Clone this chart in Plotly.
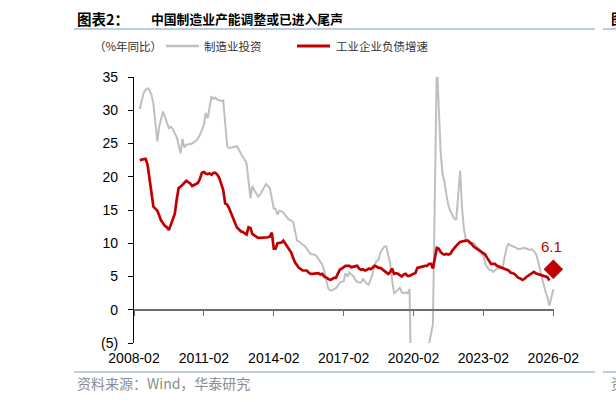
import plotly.graph_objects as go
import pandas as pd

# ---------------- data ----------------
inv_name = "制造业投资"
debt_name = "工业企业负债增速"
unit_label = "（%年同比）"

# manufacturing investment, cumulative yoy (no January prints)
inv_months = (
    ["2008-%02d" % m for m in range(5, 13)]
    + ["%d-%02d" % (y, m) for y in range(2009, 2026) for m in range(2, 13)]
    + ["2026-02"]
)
inv_vals = [
    30.2, 31.6, 32.6, 33.1, 33.3, 33.0, 32.3, 31.0,                  # 2008 May-Dec
    25.3, 27.5, 28.8, 29.8, 29.0, 28.3, 27.3, 27.5, 27.2, 26.5, 26.0,  # 2009
    23.5, 25.7, 24.4, 24.8, 24.9, 24.9, 25.0, 25.2, 25.4, 25.8, 26.3,  # 2010
    27.8, 29.6, 28.8, 30.5, 32.1, 31.7, 31.9, 31.6, 31.5, 31.4, 31.5,  # 2011
    24.6, 24.3, 24.4, 24.5, 24.6, 24.6, 24.1, 23.5, 23.0, 22.6, 22.0,  # 2012
    16.8, 18.6, 18.0, 17.5, 17.0, 17.3, 17.9, 18.5, 18.9, 18.6, 18.3,  # 2013
    15.2, 15.2, 14.3, 14.9, 14.8, 14.6, 14.2, 13.8, 13.5, 13.4, 13.2,  # 2014
    10.4, 10.3, 10.0, 9.8, 9.6, 9.2, 8.8, 8.4, 8.3, 8.3, 8.1,          # 2015
    7.3, 6.8, 5.9, 4.6, 3.3, 2.9, 2.9, 3.1, 3.2, 3.6, 4.1,             # 2016
    4.3, 5.5, 5.0, 5.6, 5.3, 5.1, 4.5, 4.2, 4.1, 4.1, 4.6,             # 2017
    3.9, 3.8, 4.8, 5.4, 6.8, 7.3, 7.5, 8.6, 9.1, 9.5, 9.5,             # 2018
    6.9, 4.6, 2.5, 2.7, 3.0, 3.3, 2.6, 2.5, 2.6, 2.5, 3.1,             # 2019
    -31.5, -25.2, -18.8, -14.8, -11.7, -10.2, -8.1, -6.5, -5.3, -3.5, -2.2,  # 2020
    37.3, 29.8, 23.8, 20.4, 19.2, 17.3, 15.7, 14.8, 14.2, 13.7, 13.5,  # 2021
    20.9, 15.6, 12.2, 10.6, 10.4, 9.9, 10.0, 10.1, 9.7, 9.3, 9.1,      # 2022
    8.1, 7.0, 6.4, 6.0, 6.0, 5.7, 5.9, 6.2, 6.2, 6.3, 6.5,             # 2023
    9.4, 9.9, 9.7, 9.6, 9.5, 9.3, 9.1, 9.2, 9.3, 9.3, 9.2,             # 2024
    9.0, 9.1, 8.8, 8.5, 7.5, 6.2, 5.1, 4.0, 2.7, 1.9, 0.6,             # 2025
    3.1,                                                               # 2026 Feb
]

# industrial enterprises' liabilities, yoy
debt_months = [
    "2008-05", "2008-07", "2008-08", "2008-09", "2008-10", "2008-11", "2008-12",
    "2009-01", "2009-02", "2009-03", "2009-04", "2009-05", "2009-06", "2009-07", "2009-08", "2009-09", "2009-10", "2009-11", "2009-12",
    "2010-01", "2010-02", "2010-03", "2010-04", "2010-05", "2010-06", "2010-07", "2010-08", "2010-09", "2010-10", "2010-11", "2010-12",
    "2011-01", "2011-02", "2011-03", "2011-04", "2011-05", "2011-06", "2011-07", "2011-08", "2011-09", "2011-10", "2011-11", "2011-12",
    "2012-01", "2012-02", "2012-03", "2012-04", "2012-05", "2012-06", "2012-07", "2012-08", "2012-09", "2012-10", "2012-11", "2012-12",
    "2013-01", "2013-02", "2013-03", "2013-04", "2013-05", "2013-06", "2013-07", "2013-08", "2013-09", "2013-10", "2013-11", "2013-12",
    "2014-01", "2014-02", "2014-03", "2014-04", "2014-05", "2014-06", "2014-07", "2014-08", "2014-09", "2014-10", "2014-11", "2014-12",
    "2015-01", "2015-02", "2015-03", "2015-04", "2015-05", "2015-06", "2015-07", "2015-08", "2015-09", "2015-10", "2015-11", "2015-12",
    "2016-01", "2016-02", "2016-03", "2016-04", "2016-05", "2016-06", "2016-07", "2016-08", "2016-09", "2016-10", "2016-11", "2016-12",
    "2017-01", "2017-02", "2017-03", "2017-04", "2017-05", "2017-06", "2017-07", "2017-08", "2017-09", "2017-10", "2017-11", "2017-12",
    "2018-01", "2018-02", "2018-03", "2018-04", "2018-05", "2018-06", "2018-07", "2018-08", "2018-09", "2018-10", "2018-11", "2018-12",
    "2019-01", "2019-02", "2019-03", "2019-04", "2019-05", "2019-06", "2019-07", "2019-08", "2019-09", "2019-10", "2019-11", "2019-12",
    "2020-02", "2020-03", "2020-04", "2020-05", "2020-06", "2020-07", "2020-08", "2020-09", "2020-10", "2020-11", "2020-12",
    "2021-02", "2021-03", "2021-04", "2021-05", "2021-06", "2021-07", "2021-08", "2021-09", "2021-10", "2021-11", "2021-12",
    "2022-02", "2022-03", "2022-04", "2022-05", "2022-06", "2022-07", "2022-08", "2022-09", "2022-10", "2022-11", "2022-12",
    "2023-02", "2023-03", "2023-04", "2023-05", "2023-06", "2023-07", "2023-08", "2023-09", "2023-10", "2023-11", "2023-12",
    "2024-02", "2024-03", "2024-04", "2024-05", "2024-06", "2024-07", "2024-08", "2024-09", "2024-10", "2024-11", "2024-12",
    "2025-02", "2025-03", "2025-04", "2025-05", "2025-06", "2025-07", "2025-08", "2025-09", "2025-10", "2025-11", "2025-12",
]
debt_vals = [
    22.5, 22.6, 22.7, 21.8, 19.5, 17.5, 15.5,
    15.2, 14.9, 14.2, 13.4, 13.0, 12.6, 12.4, 12.0, 12.8, 13.5, 14.4, 16.5,
    18.3, 18.5, 18.8, 19.1, 19.4, 19.2, 19.0, 18.6, 18.7, 18.9, 19.1, 19.7,
    20.6, 20.7, 20.5, 20.4, 20.5, 20.3, 20.6, 20.6, 20.3, 19.8, 18.9, 18.0,
    16.0, 15.8, 15.3, 14.6, 14.0, 13.1, 12.4, 12.1, 11.8, 11.7, 11.5, 11.3,
    12.4, 12.3, 11.4, 11.2, 11.0, 10.8, 10.8, 10.8, 10.9, 10.9, 10.9, 11.0,
    11.6, 9.2, 9.2, 10.0, 10.1, 10.1, 10.4, 9.9, 9.5, 9.1, 8.6, 7.8,
    7.1, 6.7, 6.3, 6.1, 5.9, 5.9, 5.9, 5.6, 5.4, 5.4, 5.4, 5.4,
    5.5, 5.3, 5.4, 5.0, 4.8, 4.6, 4.5, 4.6, 4.8, 4.8, 5.4, 6.0,
    6.2, 6.4, 6.6, 6.6, 6.6, 6.4, 6.5, 6.5, 6.6, 6.2, 6.0, 6.1,
    5.9, 6.0, 6.2, 6.1, 6.4, 6.6, 6.5, 6.3, 6.3, 6.1, 5.9, 5.6,
    5.4, 5.7, 6.2, 5.4, 5.5, 5.4, 5.2, 5.0, 5.3, 5.4, 5.1, 5.1,
    5.4, 5.5, 6.3, 6.4, 6.5, 6.6, 6.6, 6.6, 6.9, 6.9, 6.2,
    9.3, 9.2, 8.7, 8.4, 8.3, 8.4, 8.3, 8.4, 8.9, 9.3, 9.6,
    10.2, 10.3, 10.4, 10.4, 10.4, 10.2, 9.9, 9.5, 9.3, 9.0, 8.8,
    8.4, 8.3, 7.8, 7.4, 6.9, 6.9, 6.9, 6.6, 6.5, 6.4, 6.3,
    6.1, 5.9, 5.6, 5.5, 5.4, 5.1, 4.8, 4.7, 4.5, 4.6, 4.9,
    5.3, 5.5, 5.7, 5.5, 5.4, 5.4, 5.3, 5.2, 5.1, 4.9, 4.4,
]

forecast_month = "2026-02"
forecast_val = 6.1

x_tick_vals = ["2008-02", "2011-02", "2014-02", "2017-02", "2020-02", "2023-02", "2026-02"]
y_tick_vals = [-5, 0, 5, 10, 15, 20, 25, 30, 35]
y_tick_text = ["(5)", "0", "5", "10", "15", "20", "25", "30", "35"]

title_head = "图表2："
title_body = "中国制造业产能调整或已进入尾声"
source_text = "资料来源：Wind，华泰研究"

# ---------------- styling / layout helpers ----------------
W_FIG, H_FIG = 616, 402
PL, PR, PT, PB = 134, 554, 77, 343
PW, PH = PR - PL, PB - PT


def px(x):
    return (x - PL) / PW


def py(y):
    return (PB - y) / PH


NUM_FONT = "Liberation Sans, Arial, Noto Sans CJK SC, sans-serif"
CJK_FONT = "Noto Sans CJK SC, Liberation Sans, sans-serif"
RED = "#C00000"
GRAY = "#BFBFBF"
RULE = "#A9BCD3"

inv_x = pd.to_datetime(inv_months)
debt_x = pd.to_datetime(debt_months)

fig = go.Figure()
fig.add_trace(go.Scatter(x=inv_x, y=inv_vals, mode="lines", name=inv_name,
                         line=dict(color=GRAY, width=2), showlegend=False))
fig.add_trace(go.Scatter(x=debt_x, y=debt_vals, mode="lines", name=debt_name,
                         line=dict(color=RED, width=2.7), showlegend=False))
fig.add_trace(go.Scatter(x=pd.to_datetime([forecast_month]), y=[forecast_val], mode="markers",
                         xaxis="x2", marker=dict(symbol="diamond", size=15, color=RED),
                         showlegend=False, cliponaxis=False))

x_range = ["2008-02-01", "2026-02-12"]
tick_dates = pd.to_datetime(x_tick_vals)

fig.update_layout(
    width=W_FIG, height=H_FIG,
    margin=dict(l=PL, r=W_FIG - PR, t=PT, b=H_FIG - PB, pad=0),
    paper_bgcolor="white", plot_bgcolor="white",
    xaxis=dict(type="date", range=x_range, tickvals=tick_dates, ticktext=x_tick_vals,
               showline=False, ticks="", showgrid=False, zeroline=False,
               ticklabelstandoff=5,
               tickfont=dict(family=NUM_FONT, size=14, color="#000")),
    xaxis2=dict(type="date", overlaying="x", matches="x", anchor="free",
                position=5 / 40, side="bottom", range=x_range,
                tickvals=tick_dates, showticklabels=False,
                showline=True, linecolor="#6E6E6E", linewidth=1.5,
                ticks="outside", ticklen=5, tickwidth=1.2, tickcolor="#6E6E6E",
                showgrid=False, zeroline=False),
    yaxis=dict(range=[-5, 35], tickvals=y_tick_vals, ticktext=y_tick_text,
               showline=True, linecolor="#000", linewidth=1.2,
               ticks="outside", ticklen=5, tickcolor="#000",
               ticklabelstandoff=7,
               showgrid=False, zeroline=False,
               tickfont=dict(family=NUM_FONT, size=14, color="#000")),
)


def txt(s, x, y, size, color="#000", font=CJK_FONT, anchor="left"):
    return dict(text=s, x=px(x), y=py(y), xref="paper", yref="paper",
                xanchor=anchor, yanchor="middle", showarrow=False,
                font=dict(family=font, size=size, color=color))


ann = [
    txt("<b>" + title_head + "</b>", 75, 18, 14.5),
    txt("<b>" + title_body + "</b>", 149, 18, 12.8),
    txt("<b>图</b>", 609, 18, 14),
    txt(unit_label, 92, 46, 11.5, "#333"),
    txt(inv_name, 202, 46, 11.5, "#333"),
    txt(debt_name, 334, 46, 11.5, "#333"),
    txt(source_text, 75, 383, 14, "#8C8C8C"),
    txt("资", 609, 383, 14, "#8C8C8C"),
    dict(text=f"{forecast_val}", x=pd.to_datetime(forecast_month), y=forecast_val,
         xref="x", yref="y", xanchor="center", yanchor="middle", showarrow=False,
         yshift=23, xshift=-2,
         font=dict(family=NUM_FONT, size=15, color=RED)),
]
fig.update_layout(annotations=ann)

shapes = []
for (x0, x1, yy) in [(74, 595, 29), (603, 620, 29), (74, 595, 372), (603, 620, 372)]:
    shapes.append(dict(type="line", xref="paper", yref="paper", x0=px(x0), x1=px(x1),
                       y0=py(yy), y1=py(yy), line=dict(color=RULE, width=1.5)))
shapes.append(dict(type="line", xref="paper", yref="paper", x0=px(166), x1=px(199),
                   y0=py(46), y1=py(46), line=dict(color=GRAY, width=2.5)))
shapes.append(dict(type="line", xref="paper", yref="paper", x0=px(297), x1=px(330),
                   y0=py(46), y1=py(46), line=dict(color=RED, width=3)))
fig.update_layout(shapes=shapes)

fig.write_html("out.html")
